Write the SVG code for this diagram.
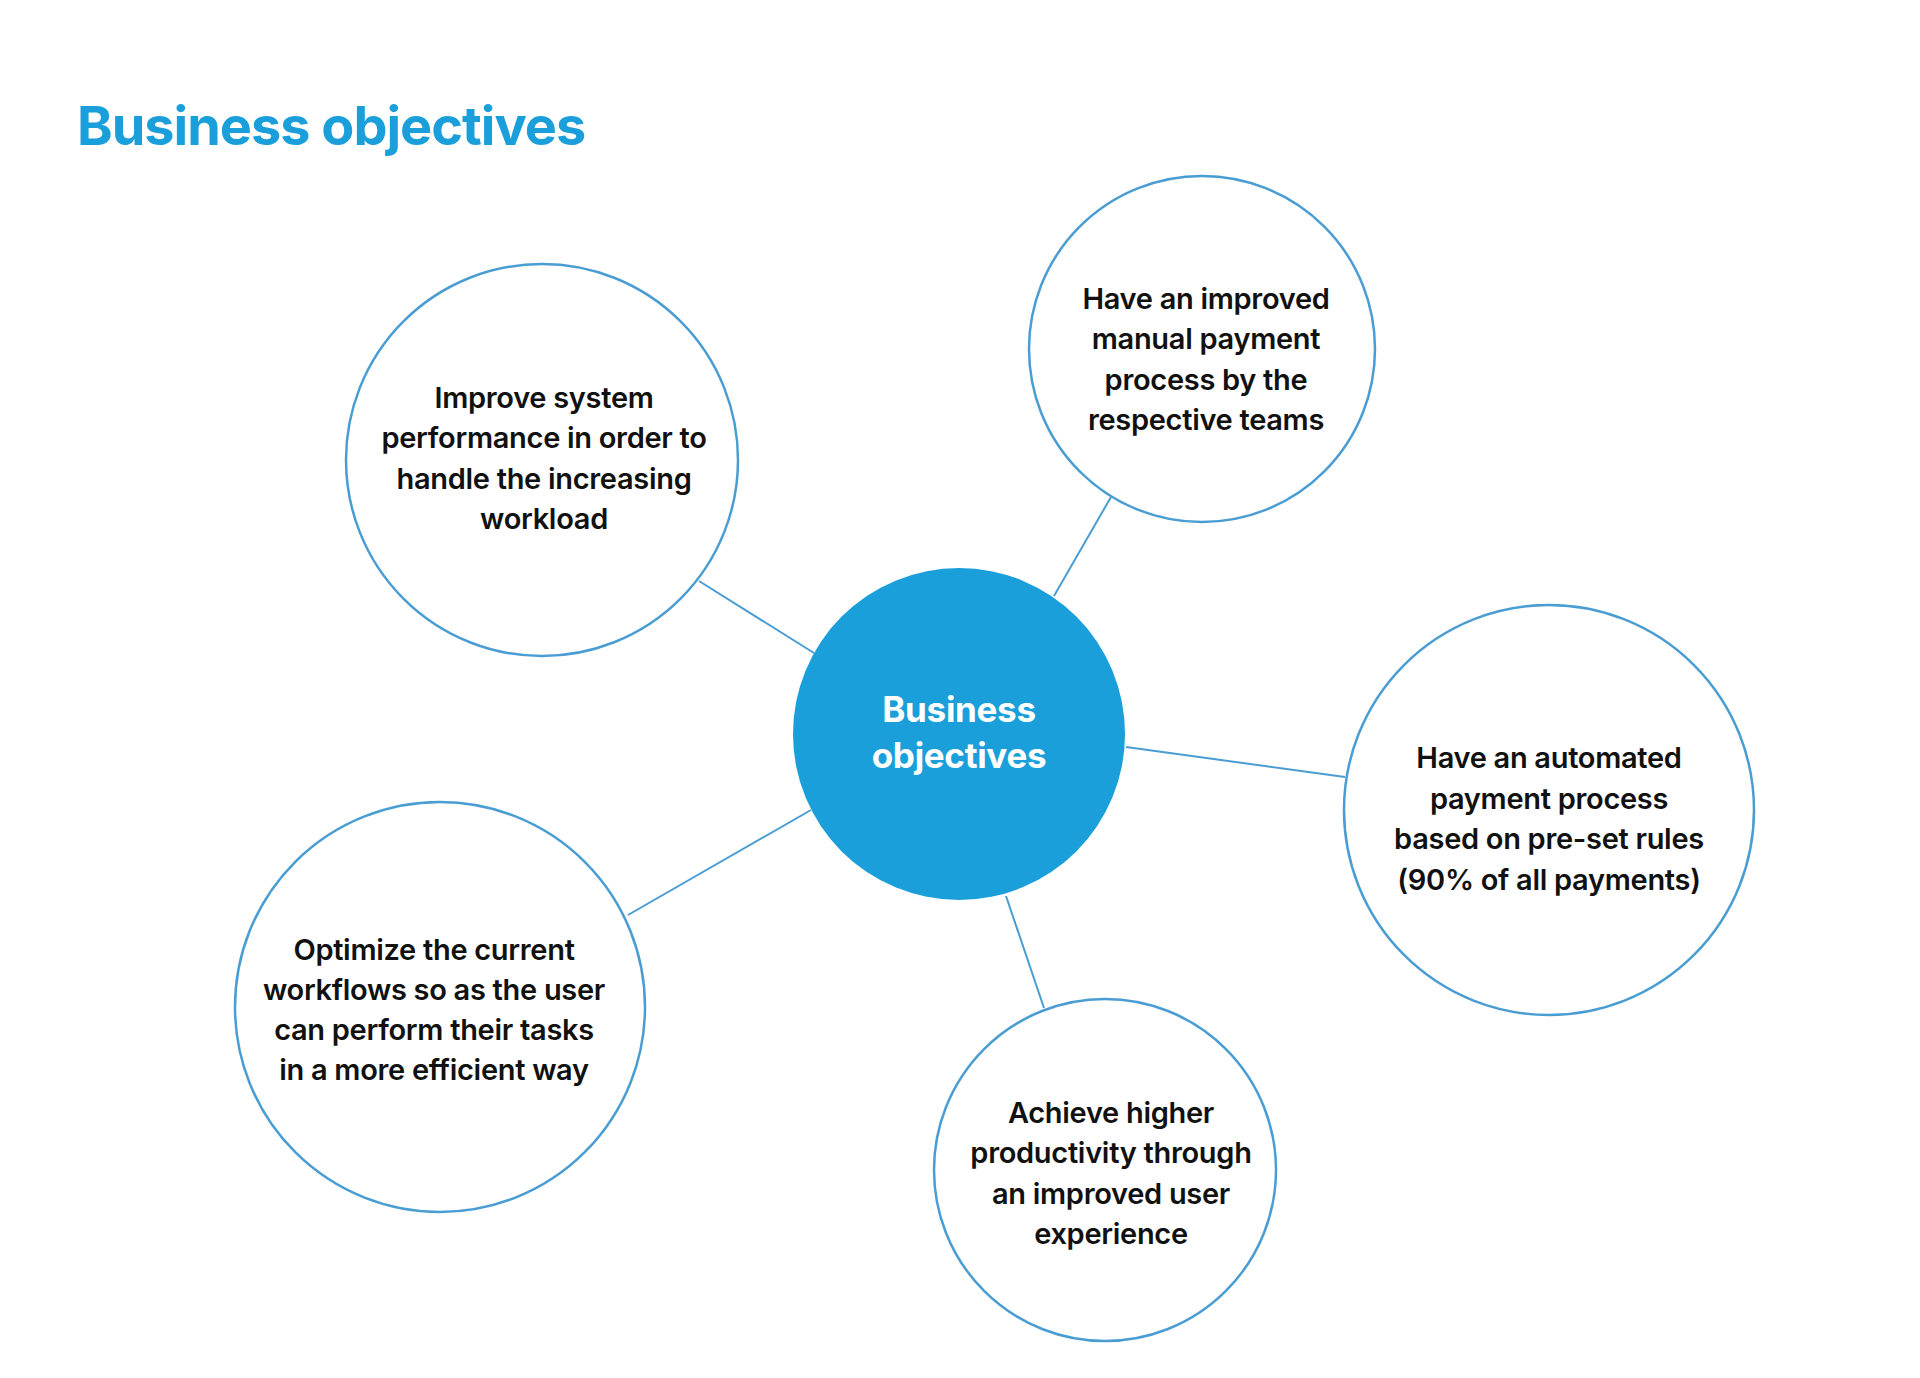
<svg xmlns="http://www.w3.org/2000/svg" width="1920" height="1378" viewBox="0 0 1920 1378">
<style>
.c{fill:#fff;stroke:#4a9dd3;stroke-width:2.5}
.t{font-family:Inter,"Liberation Sans",sans-serif;font-weight:600;font-size:29px;fill:#111;text-anchor:middle;letter-spacing:-0.3px}
.l{stroke:#4a9dd3;stroke-width:2}
</style>
<rect width="1920" height="1378" fill="#fff"/>
<text x="77" y="145" style="font-family:Inter,'Liberation Sans',sans-serif;font-weight:700;font-size:54px;fill:#1a9fdb;letter-spacing:-1px">Business objectives</text>
<g id="connectors">
<line class="l" x1="699" y1="581" x2="814" y2="653"/>
<line class="l" x1="1054" y1="596" x2="1111" y2="497"/>
<line class="l" x1="1126" y1="747" x2="1345" y2="777"/>
<line class="l" x1="628" y1="915" x2="811" y2="810"/>
<line class="l" x1="1006" y1="896" x2="1044" y2="1008"/>
</g>
<g id="center"><circle cx="959" cy="734" r="166" fill="#1a9fdb"/>
<text class="t" style="fill:#fff;font-size:35px;font-weight:700"><tspan x="959" y="722">Business</tspan><tspan x="959" y="768">objectives</tspan></text></g>
<g id="n1"><circle class="c" cx="542" cy="460" r="196"/>
<text class="t"><tspan x="544" y="408">Improve system</tspan><tspan x="544" y="448">performance in order to</tspan><tspan x="544" y="489">handle the increasing</tspan><tspan x="544" y="529">workload</tspan></text></g>
<g id="n2"><circle class="c" cx="1202" cy="349" r="173"/>
<text class="t"><tspan x="1206" y="309">Have an improved</tspan><tspan x="1206" y="349">manual payment</tspan><tspan x="1206" y="390">process by the</tspan><tspan x="1206" y="430">respective teams</tspan></text></g>
<g id="n3"><circle class="c" cx="1549" cy="810" r="205"/>
<text class="t"><tspan x="1549" y="768">Have an automated</tspan><tspan x="1549" y="809">payment process</tspan><tspan x="1549" y="849">based on pre-set rules</tspan><tspan x="1549" y="890">(90% of all payments)</tspan></text></g>
<g id="n4"><circle class="c" cx="440" cy="1007" r="205"/>
<text class="t"><tspan x="434" y="960">Optimize the current</tspan><tspan x="434" y="1000">workflows so as the user</tspan><tspan x="434" y="1040">can perform their tasks</tspan><tspan x="434" y="1080">in a more efficient way</tspan></text></g>
<g id="n5"><circle class="c" cx="1105" cy="1170" r="171"/>
<text class="t"><tspan x="1111" y="1123">Achieve higher</tspan><tspan x="1111" y="1163">productivity through</tspan><tspan x="1111" y="1204">an improved user</tspan><tspan x="1111" y="1244">experience</tspan></text></g>
</svg>
